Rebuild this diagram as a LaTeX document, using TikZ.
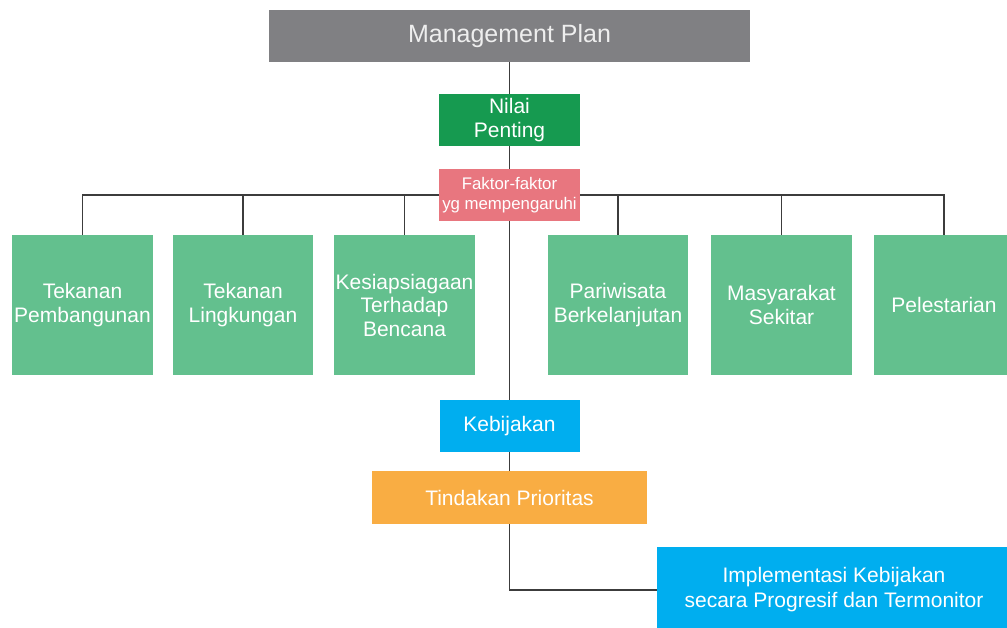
\documentclass[tikz,border=0pt]{standalone}
\usepackage{fontspec}
\setmainfont{Liberation Sans}
\definecolor{mpgray}{RGB}{128,128,131}
\definecolor{dgreen}{RGB}{22,154,80}
\definecolor{pink}{RGB}{232,118,127}
\definecolor{lgreen}{RGB}{99,192,142}
\definecolor{sky}{RGB}{0,174,239}
\definecolor{orng}{RGB}{249,173,67}
\definecolor{linec}{RGB}{60,60,60}
\begin{document}
\begin{tikzpicture}[x=1pt,y=-1pt,
  box/.style={rectangle, inner sep=0pt, align=center, text=white,
    font=\fontsize{21}{23.5}\selectfont},
  link/.style={draw=linec, line width=1.6pt}]
\path[use as bounding box, clip] (0,0) rectangle (1007,628);
\fill[white] (0,0) rectangle (1007,628);
% nodes
\node[box, fill=mpgray, minimum width=481pt, minimum height=52pt, text={rgb,255:red,238;green,238;blue,238},
  font=\fontsize{25}{28}\selectfont] (mp) at (509.5,36) {Management Plan};
\node[box, fill=dgreen, minimum width=141pt, minimum height=52pt] (nilai) at (509.5,120) {Nilai\\Penting};
\node[box, fill=pink, minimum width=141pt, minimum height=52pt,
  font=\fontsize{16.8}{20}\selectfont] (faktor) at (509.5,195) {Faktor-faktor\\yg mempengaruhi};
\node[box, fill=lgreen, minimum width=141pt, minimum height=140pt] (b1) at (82.5,305) {Tekanan\\Pembangunan};
\node[box, fill=lgreen, minimum width=140pt, minimum height=140pt] (b2) at (243,305) {Tekanan\\Lingkungan};
\node[box, fill=lgreen, minimum width=141pt, minimum height=140pt] (b3) at (404.5,305) {Kesiapsiagaan\\Terhadap\\Bencana};
\node[box, fill=lgreen, minimum width=140pt, minimum height=140pt] (b4) at (618,305) {Pariwisata\\Berkelanjutan};
\node[box, fill=lgreen, minimum width=141pt, minimum height=140pt] (b5) at (781.5,305) {Masyarakat\\Sekitar};
\node[box, fill=lgreen, minimum width=140pt, minimum height=140pt] (b6) at (944,305) {Pelestarian};
\node[box, fill=sky, minimum width=140pt, minimum height=52pt] (keb) at (509.5,426) {Kebijakan};
\node[box, fill=orng, minimum width=275pt, minimum height=53pt] (tind) at (509.5,497.5) {Tindakan Prioritas};
\node[box, fill=sky, minimum width=354pt, minimum height=86pt, font=\fontsize{21}{25}\selectfont] (impl) at (834,590) {Implementasi Kebijakan\\secara Progresif dan Termonitor};
% connectors
\draw[link] (mp.south) -- (nilai.north);
\draw[link] (nilai.south) -- (faktor.north);
\draw[link] (faktor.west) -| (b1.north);
\draw[link] (faktor.east) -| (b6.north);
\draw[link] (b2.north) -- (b2.north |- faktor.west);
\draw[link] (b3.north) -- (b3.north |- faktor.west);
\draw[link] (b4.north) -- (b4.north |- faktor.east);
\draw[link] (b5.north) -- (b5.north |- faktor.east);
\draw[link] (faktor.south) -- (keb.north);
\draw[link] (keb.south) -- (tind.north);
\draw[link] (tind.south) |- (impl.west);
\end{tikzpicture}
\end{document}
